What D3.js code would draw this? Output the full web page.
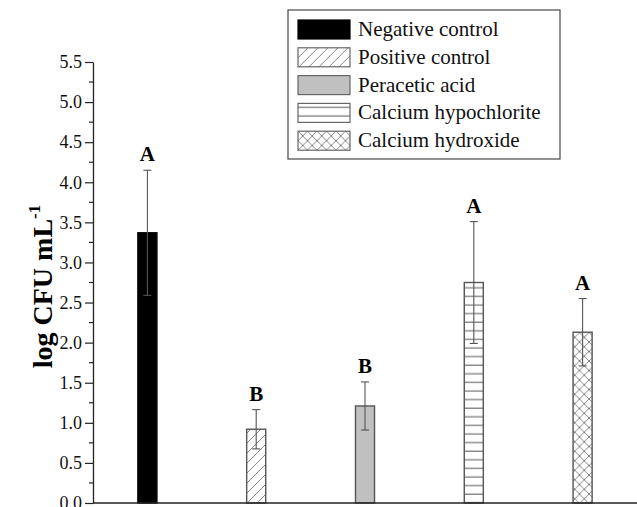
<!DOCTYPE html>
<html>
<head>
<meta charset="utf-8">
<script src="https://cdn.jsdelivr.net/npm/d3@7"></script>
<style>
  body { margin: 0; background: #fff; }
  svg text { font-family: "Liberation Serif", "Times New Roman", Times, serif !important; }
</style>
</head>
<body>
<script>
const treatments = ['Negative control', 'Positive control', 'Peracetic acid', 'Calcium hypochlorite', 'Calcium hydroxide']
const means = [3.37, 0.92, 1.21, 2.75, 2.13]
const errors = [0.78, 0.245, 0.3, 0.76, 0.42]
const letters = ['A', 'B', 'B', 'A', 'A']
const yTicks = [0, 0.5, 1, 1.5, 2, 2.5, 3, 3.5, 4, 4.5, 5, 5.5]

const WIDTH = 637
const HEIGHT = 507
const margin = { top: 62, bottom: 4, left: 93, right: 1 }

const fills = ['#000', 'url(#diag)', '#c0c0c0', 'url(#horiz)', 'url(#cross)']

svg = d3.select('body').append('svg')
    .attr('width', WIDTH)
    .attr('height', HEIGHT);

// hatch patterns
defs = svg.append('defs')

p = defs.append('pattern').attr('id', 'diag')
    .attr('patternUnits', 'userSpaceOnUse')
    .attr('width', 10).attr('height', 10)
p.append('rect').attr('width', 10).attr('height', 10).attr('fill', '#fff')
p.append('path').attr('d', 'M-2,12 L12,-2 M-2,2 L2,-2 M8,12 L12,8')
    .attr('stroke', '#777').attr('stroke-width', 0.9)

p = defs.append('pattern').attr('id', 'horiz')
    .attr('patternUnits', 'userSpaceOnUse')
    .attr('width', 10).attr('height', 8.6)
p.append('rect').attr('width', 10).attr('height', 8.6).attr('fill', '#fff')
p.append('path').attr('d', 'M0,4 L10,4')
    .attr('stroke', '#666').attr('stroke-width', 1.1)

p = defs.append('pattern').attr('id', 'cross')
    .attr('patternUnits', 'userSpaceOnUse')
    .attr('width', 9.5).attr('height', 9.5)
p.append('rect').attr('width', 9.5).attr('height', 9.5).attr('fill', '#fff')
p.append('path').attr('d', 'M0,0 L9.5,9.5 M0,9.5 L9.5,0')
    .attr('stroke', '#777').attr('stroke-width', 0.9)

x_scale = d3.scaleBand()
    .domain(treatments)
    .range([margin.left, WIDTH + 0])
    .paddingInner(0.825)
    .paddingOuter(0.4125);

y_scale = d3.scaleLinear()
    .domain([0, 5.5])
    .range([HEIGHT - margin.bottom, margin.top]);

// y axis
yAxis = svg.append('g')
    .attr('transform', `translate(${margin.left},0)`)
    .call(d3.axisLeft(y_scale).tickValues(yTicks).tickFormat(d3.format('.1f')).tickSize(8).tickSizeOuter(0))
yAxis.attr('font-family', null)
yAxis.select('.domain').attr('stroke', '#222').attr('stroke-width', 1.3)
yAxis.selectAll('.tick line').attr('stroke', '#222').attr('stroke-width', 1.2)
yAxis.selectAll('.tick text')
    .attr('font-size', 18).attr('fill', '#111').attr('x', -11)

// minor ticks
svg.append('g').selectAll('line')
    .data(yTicks.slice(0, -1).map(d => d + 0.25))
    .join('line')
    .attr('x1', margin.left - 4).attr('x2', margin.left)
    .attr('y1', d => y_scale(d)).attr('y2', d => y_scale(d))
    .attr('stroke', '#222').attr('stroke-width', 1.2)

// bars
svg.append('g')
    .selectAll('rect')
    .data(treatments)
    .join('rect')
        .attr('x', d => x_scale(d))
        .attr('y', (d, i) => y_scale(means[i]))
        .attr('width', x_scale.bandwidth())
        .attr('height', (d, i) => y_scale(0) - y_scale(means[i]))
        .attr('fill', (d, i) => fills[i])
        .attr('stroke', (d, i) => i == 0 ? '#000' : '#555')
        .attr('stroke-width', 1.4);

// error bars
eb = svg.append('g').attr('stroke', '#555').attr('stroke-width', 1.1)
    .selectAll('g')
    .data(treatments)
    .join('g')
    .attr('transform', d => `translate(${x_scale(d) + x_scale.bandwidth() / 2},0)`)
eb.append('line')
    .attr('y1', (d, i) => y_scale(means[i] + errors[i]))
    .attr('y2', (d, i) => y_scale(means[i] - errors[i]))
eb.append('line').attr('x1', -4).attr('x2', 4)
    .attr('y1', (d, i) => y_scale(means[i] + errors[i]))
    .attr('y2', (d, i) => y_scale(means[i] + errors[i]))
eb.append('line').attr('x1', -4).attr('x2', 4)
    .attr('y1', (d, i) => y_scale(means[i] - errors[i]))
    .attr('y2', (d, i) => y_scale(means[i] - errors[i]))

// significance letters
svg.append('g')
    .selectAll('text')
    .data(treatments)
    .join('text')
    .attr('x', d => x_scale(d) + x_scale.bandwidth() / 2)
    .attr('y', (d, i) => y_scale(means[i] + errors[i]) - 9)
    .attr('text-anchor', 'middle')
    .attr('font-size', 21).attr('font-weight', 'bold')
    .text((d, i) => letters[i]);

// x axis line
svg.append('line')
    .attr('x1', margin.left).attr('x2', WIDTH)
    .attr('y1', y_scale(0)).attr('y2', y_scale(0))
    .attr('stroke', '#222').attr('stroke-width', 1.4)

// y label
yl = svg.append('text')
    .attr('transform', `translate(52,${(y_scale(0) + y_scale(5.5)) / 2 + 4}) rotate(-90)`)
    .attr('text-anchor', 'middle')
    .attr('font-size', 28).attr('font-weight', 'bold')
yl.append('tspan').text('log CFU mL')
yl.append('tspan').attr('dy', -12).attr('font-size', 17).text('-1')

// legend
lg = svg.append('g').attr('transform', 'translate(288,10)')
lg.append('rect').attr('width', 272).attr('height', 149)
    .attr('fill', '#fff').attr('stroke', '#555').attr('stroke-width', 1.3)
item = lg.selectAll('g')
    .data(treatments)
    .join('g')
    .attr('transform', (d, i) => `translate(10,${10 + i * 27.8})`)
item.append('rect').attr('width', 52).attr('height', 19)
    .attr('fill', (d, i) => fills[i])
    .attr('stroke', (d, i) => i == 0 ? '#000' : '#666').attr('stroke-width', 1.2)
item.append('text').attr('x', 60).attr('y', 16)
    .attr('font-size', 21).attr('fill', '#111')
    .text(d => d)
</script>
</body>
</html>
